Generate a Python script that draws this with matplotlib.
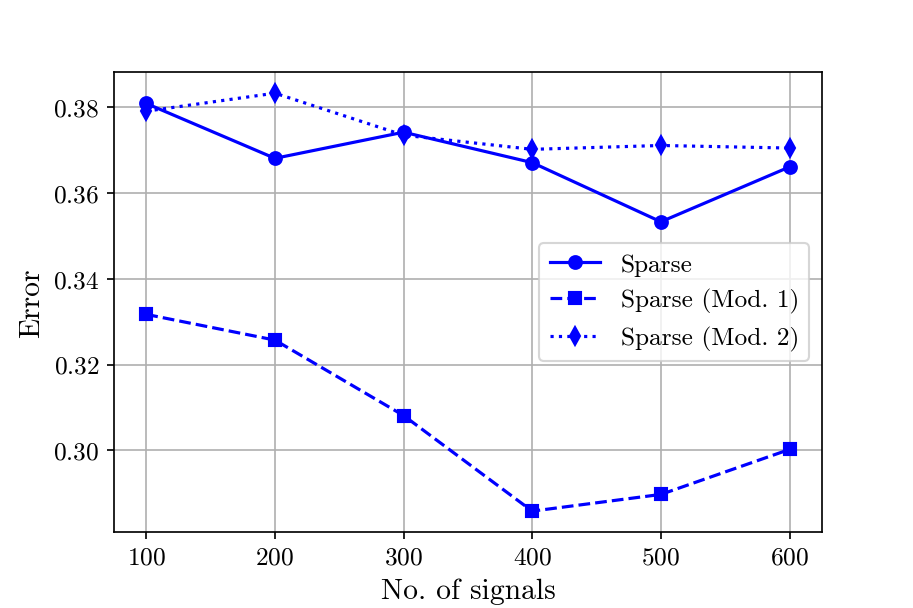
import matplotlib
matplotlib.use("Agg")
import matplotlib.pyplot as plt

plt.rcParams['font.family'] = 'serif'
plt.rcParams['font.serif'] = ['cmr10']
plt.rcParams['mathtext.fontset'] = 'cm'
plt.rcParams['axes.formatter.use_mathtext'] = True
plt.rcParams['axes.unicode_minus'] = False

signals = [100, 200, 300, 400, 500, 600]
sparse = [0.3809, 0.3681, 0.3742, 0.3671, 0.3533, 0.3661]
sparse_mod1 = [0.3317, 0.3257, 0.3081, 0.2858, 0.2897, 0.3002]
sparse_mod2 = [0.3791, 0.3833, 0.3735, 0.3702, 0.3711, 0.3705]

fig = plt.figure(figsize=(6, 4), dpi=152.17)
ax = fig.add_axes([0.125, 1 - 533/609, 0.775, (533-73)/609])
ax.plot(signals, sparse, 'b-', marker='o', label='Sparse')
ax.plot(signals, sparse_mod1, 'b--', marker='s', label='Sparse (Mod. 1)')
ax.plot(signals, sparse_mod2, 'b:', marker='d', label='Sparse (Mod. 2)')
ax.grid(True)
ax.set_yticks([0.30, 0.32, 0.34, 0.36, 0.38])
ax.set_xticks(signals)
ax.tick_params(labelsize=12)
ax.set_xlabel('No. of signals', fontsize=14)
ax.set_ylabel('Error', fontsize=14)
ax.legend(loc='center right', bbox_to_anchor=(1.0, 0.5), fontsize=12)
fig.savefig('out.png', dpi=152.17)
